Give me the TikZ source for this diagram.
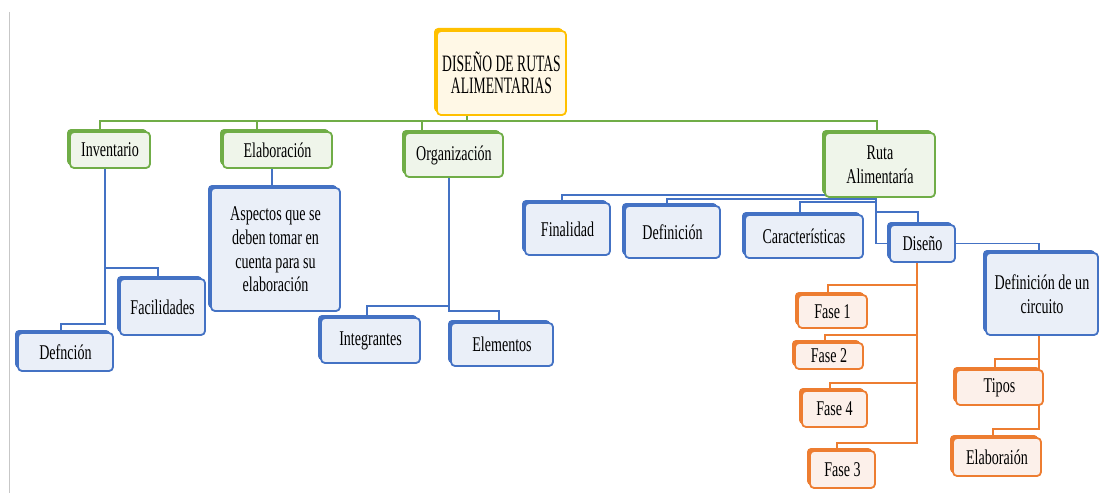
\documentclass[tikz,border=0pt]{standalone}
\usepackage{fontspec}
\setmainfont{Liberation Serif}[FakeStretch=0.67]
\newfontfamily\titlefont{Liberation Serif}[FakeStretch=0.58]
\usetikzlibrary{shadows,backgrounds}
\definecolor{cg}{HTML}{70AD47}
\definecolor{cgf}{HTML}{EFF5EA}
\definecolor{cb}{HTML}{4472C4}
\definecolor{cbf}{HTML}{EAEFF8}
\definecolor{co}{HTML}{ED7D31}
\definecolor{cof}{HTML}{FCF0EA}
\definecolor{cy}{HTML}{FFC000}
\definecolor{cyf}{HTML}{FFF8E6}
\tikzset{
  box/.style={rounded corners=4pt, line width=1.8pt, inner sep=2pt, align=center,
    font=\fontsize{21}{23.7}\selectfont},
  gbox/.style={box, draw=cg, fill=cgf, general shadow={shadow xshift=-3pt, shadow yshift=3pt, fill=cg}},
  bbox/.style={box, draw=cb, fill=cbf, general shadow={shadow xshift=-3pt, shadow yshift=3pt, fill=cb}},
  obox/.style={box, draw=co, fill=cof, general shadow={shadow xshift=-3pt, shadow yshift=3pt, fill=co}},
  ybox/.style={box, draw=cy, fill=cyf, general shadow={shadow xshift=-3pt, shadow yshift=3pt, fill=cy},
    font=\titlefont\fontsize{23.5}{22}\selectfont},
  gl/.style={draw=cg, line width=1.6pt},
  bl/.style={draw=cb, line width=1.6pt},
  ol/.style={draw=co, line width=1.6pt},
}
\begin{document}
\begin{tikzpicture}[x=1pt,y=-1pt]
\useasboundingbox (0,0) rectangle (1101,495);

% nodes
\node[ybox, minimum width=129pt, minimum height=84pt] (title) at (501.5,73) {DISEÑO DE RUTAS\\ALIMENTARIAS};
\node[gbox, minimum width=80pt, minimum height=36pt] (inv) at (110,150) {Inventario};
\node[gbox, minimum width=109pt, minimum height=36pt] (elab) at (277.5,150) {Elaboración};
\node[gbox, minimum width=98pt, minimum height=44pt] (org) at (454,155) {Organización};
\node[gbox, minimum width=110pt, minimum height=64pt] (ruta) at (880,165) {Ruta\\Alimentaría};

\node[bbox, minimum width=85pt, minimum height=56pt] (fac) at (162.5,307) {Facilidades};
\node[bbox, minimum width=95pt, minimum height=38pt] (def) at (65.5,352) {Defnción};
\node[bbox, minimum width=129pt, minimum height=123pt] (asp) at (275.5,249.5) {Aspectos que se\\deben tomar en\\cuenta para su\\elaboración};
\node[bbox, minimum width=99pt, minimum height=45pt] (int) at (370.5,340.5) {Integrantes};
\node[bbox, minimum width=102pt, minimum height=43pt] (ele) at (502,344.5) {Elementos};

\node[bbox, minimum width=85pt, minimum height=52pt] (fin) at (567.5,229) {Finalidad};
\node[bbox, minimum width=95pt, minimum height=52pt] (defi) at (672.5,232) {Definición};
\node[bbox, minimum width=118pt, minimum height=43pt] (car) at (804,236.5) {Características};
\node[bbox, minimum width=65pt, minimum height=37pt] (dis) at (922.5,243.5) {Diseño};
\node[bbox, minimum width=112pt, minimum height=82pt] (defc) at (1042,294) {Definición de un\\circuito};

\node[obox, minimum width=69pt, minimum height=33pt] (f1) at (832.5,311.5) {Fase 1};
\node[obox, minimum width=68pt, minimum height=26pt, inner sep=0pt] (f2) at (829,356) {Fase 2};
\node[obox, minimum width=65pt, minimum height=36pt] (f4) at (834.5,409) {Fase 4};
\node[obox, minimum width=65pt, minimum height=37pt] (f3) at (842.5,469.5) {Fase 3};
\node[obox, minimum width=87pt, minimum height=35pt] (tip) at (999.5,387.5) {Tipos};
\node[obox, minimum width=88pt, minimum height=38pt] (ela2) at (997,457) {Elaboraión};

% connectors (behind the boxes)
\begin{scope}[on background layer]
\fill[white] (0,0) rectangle (1101,495);
\draw[black!22, line width=0.8pt] (9,12) -- (9,493);

\draw[gl] ([xshift=-34.5pt]title.south) -- ++(0,5) -| ([xshift=-10pt]inv.north);
\draw[gl] ([xshift=-34.5pt]title.south) -- ++(0,5) -| ([xshift=-20.5pt]elab.north);
\draw[gl] ([xshift=-34.5pt]title.south) -- ++(0,5) -| ([xshift=-32pt]org.north);
\draw[gl] ([xshift=-34.5pt]title.south) -- ++(0,5) -| ([xshift=-3pt]ruta.north);

\draw[bl] ([xshift=-5pt]inv.south) -- ++(0,99) -| ([xshift=-4.5pt]fac.north);
\draw[bl] ([xshift=-5pt]inv.south) -- ++(0,155) -| ([xshift=-4.5pt]def.north);
\draw[bl] ([xshift=-5.5pt]elab.south) -- ++(0,8) -| ([xshift=-3.5pt]asp.north);
\draw[bl] ([xshift=-5pt]org.south) -- ++(0,128) -| ([xshift=-3.5pt]int.north);
\draw[bl] ([xshift=-5pt]org.south) -- ++(0,133) -| ([xshift=-3pt]ele.north);

\draw[bl] ([xshift=-4pt]ruta.center) -- ++(0,30) -| ([xshift=-5.5pt]fin.north);
\draw[bl] ([xshift=-4pt]ruta.center) -- ++(0,34) -| ([xshift=-5.5pt]defi.north);
\draw[bl] ([xshift=-4pt]ruta.center) -- ++(0,37) -| ([xshift=-4pt]car.north);
\draw[bl] ([xshift=-4pt]ruta.center) -- ++(0,47) -| ([xshift=-4.5pt]dis.north);
\draw[bl] ([xshift=-4pt]ruta.center) |- (dis.west);
\draw[bl] (dis.east) -| ([xshift=-3pt]defc.north);

\draw[ol] ([xshift=-5.5pt]dis.south) -- ++(0,22) -| ([xshift=-4.5pt]f1.north);
\draw[ol] ([xshift=-5.5pt]dis.south) -- ++(0,72) -| ([xshift=-4pt]f2.north);
\draw[ol] ([xshift=-5.5pt]dis.south) -- ++(0,120) -| ([xshift=-4.5pt]f4.north);
\draw[ol] ([xshift=-5.5pt]dis.south) -- ++(0,180) -| ([xshift=-5.5pt]f3.north);
\draw[ol] ([xshift=-3pt]defc.south) -- ++(0,23) -| ([xshift=-4.5pt]tip.north);
\draw[ol] ([xshift=-3pt]defc.south) -- ++(0,93) -| ([xshift=-4pt]ela2.north);
\end{scope}
\end{tikzpicture}
\end{document}
